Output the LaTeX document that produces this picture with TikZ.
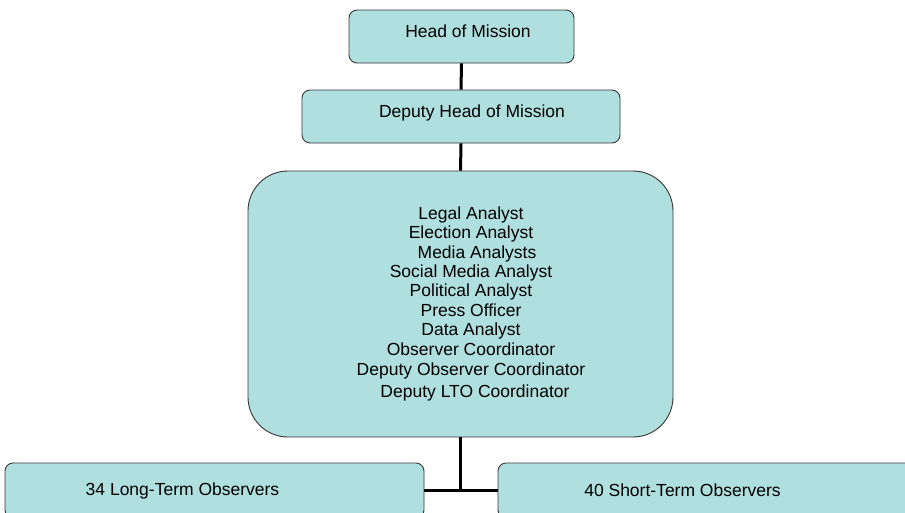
\documentclass[tikz,border=0pt]{standalone}
\usepackage{fontspec}
\setmainfont{Liberation Sans}
\usetikzlibrary{positioning, calc}
\definecolor{color1}{RGB}{176,223,224}
\definecolor{color2}{RGB}{55,55,55}

\begin{document}
\begin{tikzpicture}[x=1pt,y=-1pt,
		box/.style={draw=color2,fill=color1,rounded corners=8pt,line width=0.9pt,inner sep=0pt},
		txt/.style={font=\fontsize{17.5}{19.4}\selectfont,align=center,text=black},
		link/.style={line width=3pt,black}]
		\useasboundingbox (0,0) rectangle (905,512);
		\clip (0,0) rectangle (905,512);
		
		\node[box,minimum width=225pt,minimum height=53pt,label={[txt,xshift=6.5pt,yshift=5.5pt]center:Head of Mission}] (hom) at (461.5,36.5) {};
		\node[box,minimum width=318pt,minimum height=53pt,label={[txt,xshift=11pt,yshift=3.5pt]center:Deputy Head of Mission}] (dhom) at (461,116.5) {};
		\node[box,rounded corners=40pt,minimum width=425pt,minimum height=266pt,label={[txt,xshift=10.5pt]center:Legal Analyst\\Election Analyst\\\hspace*{12pt}Media Analysts\\Social Media Analyst\\Political Analyst\\Press Officer\\Data Analyst\\Observer Coordinator\\[1.5pt]Deputy Observer Coordinator\hspace*{15pt}\\[2.5pt]\hspace*{8pt}Deputy LTO Coordinator}] (staff) at (460.5,304) {};
		\node[box,minimum width=419pt,minimum height=55pt,label={[txt,xshift=-32pt]center:34 Long-Term Observers}] (lto) at (214.5,490.5) {};
		\node[box,minimum width=419pt,minimum height=55pt,label={[txt,xshift=-25pt]center:40 Short-Term Observers}] (sto) at (707.5,490.5) {};
		
		\draw[link] (hom.south) -- (dhom.north);
		\draw[link] (dhom.south) -- (staff.north);
		\draw[link] (staff.south) -- (staff.south |- lto.east);
		\draw[link] (lto.east) -- (sto.west);
		
\end{tikzpicture}
\end{document}
